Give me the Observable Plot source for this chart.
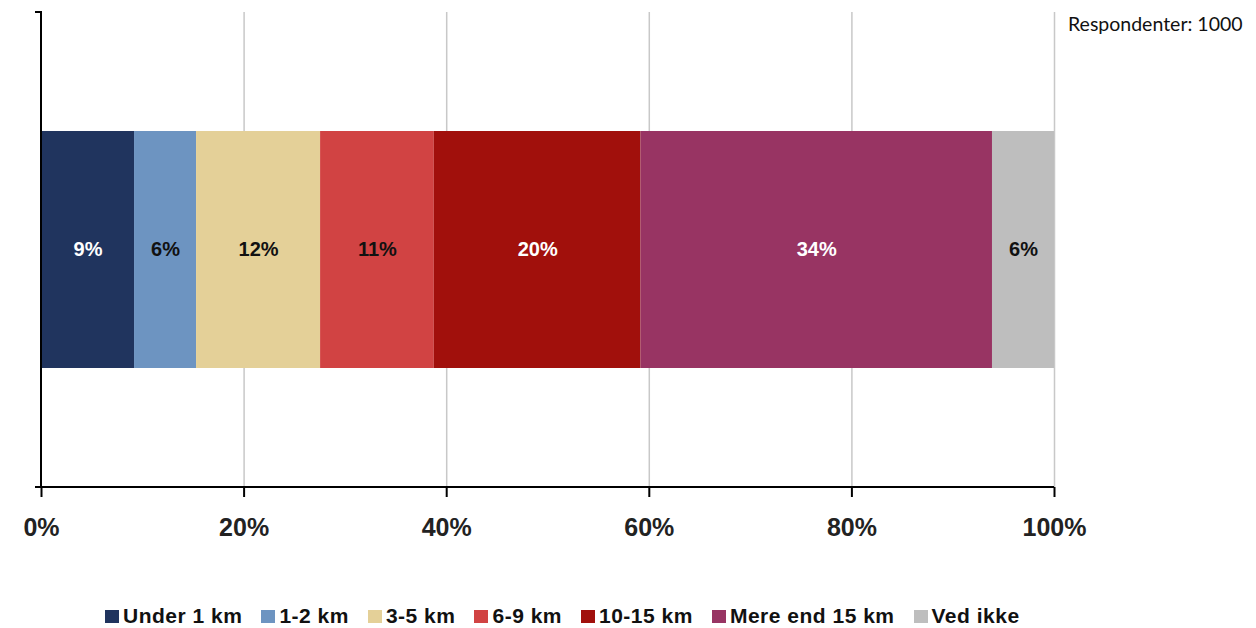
<!DOCTYPE html>
<html><head><meta charset="utf-8">
<script src="https://cdn.jsdelivr.net/npm/d3@7"></script>
<script src="https://cdn.jsdelivr.net/npm/@observablehq/plot@0.6"></script>
<style>
body{margin:0;background:#fff;}
#wrap{position:relative;width:1256px;height:628px;font-family:"Liberation Sans",Arial,sans-serif;}
#resp{position:absolute;left:1068px;top:12px;font-family:Lato,sans-serif;font-size:19.5px;color:#111;white-space:nowrap;}
#legend{position:absolute;left:105px;top:603px;height:26px;display:flex;align-items:center;gap:19px;font-weight:bold;font-size:21px;letter-spacing:0.5px;color:#111;white-space:nowrap;}
.item{display:flex;align-items:center;line-height:26px;}
.sw{width:14px;height:13px;margin-right:4px;}
</style></head><body><div id="wrap"></div>
<script>
const categories = ["Under 1 km","1-2 km","3-5 km","6-9 km","10-15 km","Mere end 15 km","Ved ikke"];
const values = [9, 6, 12, 11, 20, 34, 6];
const colors = ["#20345e","#6d94c1","#e4d098","#d14343","#a1100c","#983463","#bebebe"];
const xTicks = [0, 0.2, 0.4, 0.6, 0.8, 1];
const groupName = "Alle";
const respondents = "Respondenter: 1000";

const data = categories.map((c, i) => ({category: c, value: values[i], group: groupName}));
const isDark = d => d3.hsl(colors[categories.indexOf(d.category)]).l < 0.5;

function axisLines(index, scales, vals, dim) {
  const g = d3.create("svg:g").attr("stroke", "black").attr("stroke-width", 2).attr("fill", "none");
  const x0 = scales.x(0), x1 = scales.x(1);
  const t = dim.marginTop, b = dim.height - dim.marginBottom;
  g.append("path").attr("d", `M${x0 - 6},${t}H${x0}V${b}`);
  g.append("path").attr("d", `M${x0 - 6},${b}H${x1}`);
  return g.node();
}

const stackOpts = (extra) => Plot.stackX({x: "value", y: "group", offset: "normalize", order: null, ...extra});
const label = d => d.value + "%";

const chart = Plot.plot({
  width: 1256,
  height: 575,
  marginLeft: 41,
  marginRight: 202,
  marginTop: 12,
  marginBottom: 88,
  style: {fontFamily: "'Liberation Sans', Arial, sans-serif", background: "white"},
  x: {domain: [0, 1]},
  y: {axis: null, padding: 1/3},
  color: {domain: categories, range: colors},
  marks: [
    Plot.gridX(xTicks.slice(1), {stroke: "#c8c8c8", strokeOpacity: 1, strokeWidth: 1.5}),
    Plot.barX(data, stackOpts({fill: "category"})),
    Plot.text(data, Plot.filter(d => isDark(d), stackOpts({text: label, fill: "white", fontSize: 20, fontWeight: "bold"}))),
    Plot.text(data, Plot.filter(d => !isDark(d), stackOpts({text: label, fill: "#111", fontSize: 20, fontWeight: "bold"}))),
    axisLines,
    Plot.axisX(xTicks, {tickFormat: d3.format(".0%"), tickSize: 10, tickPadding: 21, fontSize: 25, fontWeight: "bold", stroke: "black", strokeWidth: 2, fill: "#222", label: null})
  ]
});

const wrap = document.getElementById("wrap");
wrap.appendChild(chart);
const resp = document.createElement("div");
resp.id = "resp";
resp.textContent = respondents;
wrap.appendChild(resp);
const legend = document.createElement("div");
legend.id = "legend";
categories.forEach((c, i) => {
  const it = document.createElement("div");
  it.className = "item";
  const sw = document.createElement("span");
  sw.className = "sw";
  sw.style.background = colors[i];
  const tx = document.createElement("span");
  tx.textContent = c;
  it.appendChild(sw); it.appendChild(tx);
  legend.appendChild(it);
});
wrap.appendChild(legend);
</script></body></html>
